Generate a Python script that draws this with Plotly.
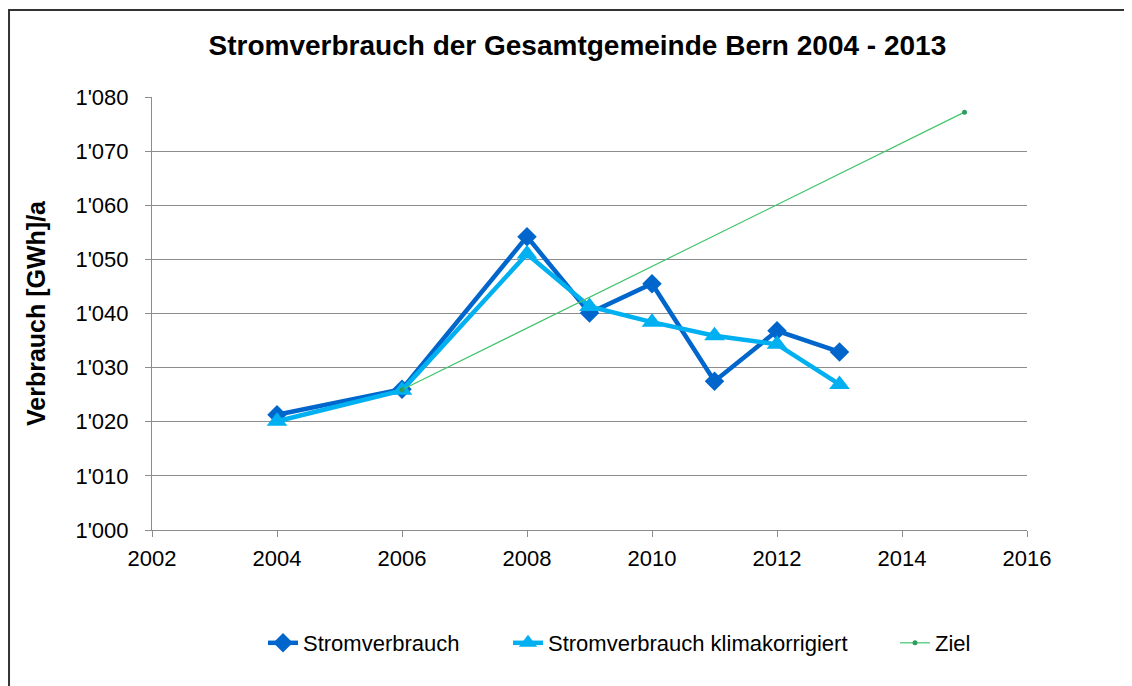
import plotly.graph_objects as go

years = [2004, 2006, 2008, 2009, 2010, 2011, 2012, 2013]
strom = [1021.3, 1026.0, 1054.2, 1040.1, 1045.5, 1027.5, 1036.8, 1032.9]
strom_klima = [1020.1, 1025.8, 1051.0, 1041.3, 1038.4, 1035.9, 1034.3, 1026.9]
ziel_years = [2006, 2015]
ziel = [1025.9, 1077.2]

y_ticks = [1000, 1010, 1020, 1030, 1040, 1050, 1060, 1070, 1080]
y_ticktext = ["1'000", "1'010", "1'020", "1'030", "1'040", "1'050", "1'060", "1'070", "1'080"]
x_ticks = [2002, 2004, 2006, 2008, 2010, 2012, 2014, 2016]

FONT = "Liberation Sans, Arial, sans-serif"

fig = go.Figure()
fig.add_trace(go.Scatter(
    x=years, y=strom, name="Stromverbrauch", mode="lines+markers",
    line=dict(color="#0066CC", width=4.5),
    marker=dict(symbol="diamond", size=15, color="#0066CC"),
    legend="legend", showlegend=True,
))
fig.add_trace(go.Scatter(
    x=years, y=strom_klima, name="Stromverbrauch klimakorrigiert", mode="lines+markers",
    line=dict(color="#00B0F0", width=4.5),
    marker=dict(symbol="triangle-up", size=18, color="#00B0F0"),
    legend="legend2", showlegend=True,
))
fig.add_trace(go.Scatter(
    x=ziel_years, y=ziel, name="Ziel", mode="lines+markers",
    line=dict(color="#44C46E", width=1.2),
    marker=dict(symbol="circle", size=5, color="#2E9E5E"),
    legend="legend3", showlegend=True,
))

leg_common = dict(orientation="h", yanchor="middle", y=-0.261, xanchor="left",
                  font=dict(size=22), bgcolor="rgba(0,0,0,0)")

fig.update_layout(
    width=1132, height=686,
    showlegend=True,
    margin=dict(l=144, r=113, t=89, b=164),
    paper_bgcolor="white", plot_bgcolor="white",
    font=dict(family=FONT, size=22, color="black"),
    title=dict(
        text="<b>Stromverbrauch der Gesamtgemeinde Bern 2004 - 2013</b>",
        x=0.503, xanchor="center", y=0.946, yanchor="middle",
        font=dict(family=FONT, size=28, color="black"),
    ),
    xaxis=dict(
        range=[2002, 2016], tickvals=x_ticks, showgrid=False,
        showline=True, linecolor="#8C8C8C", linewidth=1,
        ticks="outside", ticklen=6, tickcolor="#8C8C8C",
        tickfont=dict(size=22), zeroline=False, ticklabelstandoff=3,
    ),
    yaxis=dict(
        range=[1000, 1080], tickvals=y_ticks, ticktext=y_ticktext,
        showgrid=True, gridcolor="#8C8C8C", gridwidth=1,
        showline=True, linecolor="#8C8C8C", linewidth=1,
        ticks="outside", ticklen=6, tickcolor="#8C8C8C",
        tickfont=dict(size=22), zeroline=False, ticklabelstandoff=12,
        title=dict(text="<b>Verbrauch [GWh]/a</b>", font=dict(size=25), standoff=22),
    ),
    legend=dict(x=(263 - 152) / 875, **leg_common),
    legend2=dict(x=(508 - 152) / 875, **leg_common),
    legend3=dict(x=(895 - 152) / 875, **leg_common),
    shapes=[dict(
        type="rect", xref="paper", yref="paper",
        x0=-0.1634, x1=1.14, y0=-0.42, y1=1.201,
        line=dict(color="#333333", width=2), fillcolor="rgba(0,0,0,0)", layer="below",
    )],
)

fig.write_html("out.html")
